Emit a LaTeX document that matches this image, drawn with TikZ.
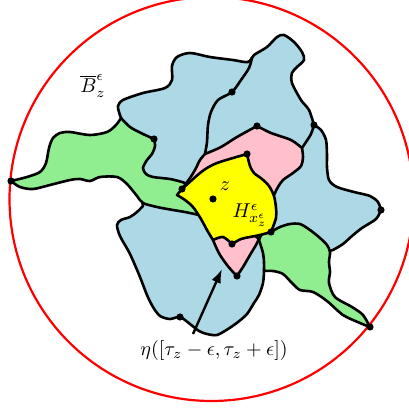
\documentclass[tikz,border=0pt]{standalone}
\usetikzlibrary{arrows.meta}
\definecolor{lb}{HTML}{ADD8E6}
\definecolor{lg}{HTML}{90EE90}
\definecolor{pk}{HTML}{FFC0CB}
\definecolor{yl}{HTML}{FFFF00}
\tikzset{
  bd/.style={line width=1.3pt, draw=black, line join=round, line cap=round},
  blobline/.style={line width=1.3pt, black, line cap=round},
  dotmark/.style={fill=black},
  lbl/.style={inner sep=0pt, font=\normalsize}
}
\begin{document}
\begin{tikzpicture}[x=0.5pt,y=-0.5pt]
\useasboundingbox (0,0) rectangle (409,408);
% named points
\coordinate (ctr) at (211.5,199);
\coordinate (D1) at (11,181);
\coordinate (D2) at (154,139);
\coordinate (D3) at (232,92);
\coordinate (D4) at (257,126);
\coordinate (D5) at (314,125);
\coordinate (D6) at (247,154);
\coordinate (D7) at (182,189);
\coordinate (Dz) at (213,199);
\coordinate (D8) at (232,244);
\coordinate (D9) at (271,232);
\coordinate (D10) at (237,276);
\coordinate (D11) at (381,210);
\coordinate (D12) at (370,327);
\coordinate (D13) at (180,317);
\coordinate (atail) at (193,334);
\coordinate (atip) at (222,269);

% blue union
\path[fill=lb, bd]
  plot[smooth] coordinates {(121,118) (119,112) (118,106) (123,100) (143,93) (165,88) (172,80) (172,66) (177,57) (190,53) (210,57) (233,60) (248,62) (254,55) (267,47) (277,37) (284,35) (294,42) (302,52) (304,60) (297,67) (292,73) (292,83) (301,100) (309,110) (314,125)}
  -- plot[smooth] coordinates {(314,125) (321,130) (326,140) (327,155) (327,167) (329,180) (337,187) (354,192) (370,196) (378,202) (381,210)}
  -- plot[smooth] coordinates {(381,210) (376,219) (362,228) (352,236) (343,244) (333,250)}
  -- (300,258) -- (272,262) -- (265,268)
  -- plot[smooth] coordinates {(264,272) (263,283) (259,295) (254,303) (247,314) (238,322) (228,329) (217,335) (207,334) (199,331) (190,324) (180,317) (170,319) (160,316) (153,307) (147,295) (140,277) (130,254) (120,236) (117,225) (121,220) (130,217) (137,212) (143,206)}
  -- (140,186) -- (128,165) -- cycle;

% blue internal lines
\draw[blobline] plot[smooth] coordinates {(252,58) (249,68) (241,80) (232,92) (218,100) (211,112) (208,125) (207,142) (205,154)};
\draw[blobline] plot[smooth] coordinates {(314,125) (311,134) (306,142) (302,148)};

% left green
\path[fill=lg, bd]
  plot[smooth] coordinates {(11,181) (27,177) (40,172) (46,163) (49,148) (53,138) (60,133) (70,132) (90,135) (107,132) (116,125) (121,118)}
  -- plot[smooth] coordinates {(121,118) (130,127) (141,133) (154,139)}
  -- plot[smooth] coordinates {(154,139) (155,146) (152,154) (147,160) (143,168) (146,174) (153,177) (170,179) (182,182) (188,184)}
  -- (198,193) -- (205,205) -- (199,215)
  -- plot[smooth] coordinates {(199,215) (185,212) (173,210) (157,207) (143,203) (137,196) (127,184) (117,177) (100,177) (90,181) (80,179) (70,180) (50,185) (33,189) (20,187) (11,181)}
  -- cycle;

% right green
\path[fill=lg, bd]
  plot[smooth] coordinates {(271,232) (280,227) (290,224) (300,224) (310,230) (320,238) (327,245) (330,252) (329,262) (330,272) (329,283) (335,297) (352,307) (363,315) (370,327)}
  -- plot[smooth] coordinates {(370,327) (360,323) (343,315) (327,301) (313,292) (300,290) (292,283) (283,274) (273,271) (264,271)}
  -- plot[smooth] coordinates {(264,271) (264,262) (263,253) (259,240)}
  -- (264,228) -- cycle;

% upper pink
\path[fill=pk, bd]
  plot[smooth] coordinates {(182,189) (190,178) (195,170) (200,160) (205,154)}
  -- plot[smooth] coordinates {(205,154) (221,147) (237,137) (257,126)}
  -- plot[smooth] coordinates {(257,126) (271,133) (291,140) (302,148)}
  -- plot[smooth] coordinates {(302,148) (303,157) (301,166) (293,173) (283,180) (278,187) (274,195)}
  -- (262,200) -- (220,190) -- cycle;

% lower pink
\path[fill=pk, bd]
  plot[smooth] coordinates {(213,240) (216,247) (220,255) (227,265) (233,272) (237,276)}
  -- plot[smooth] coordinates {(237,276) (243,267) (250,255) (256,245) (259,239)}
  -- (245,228) -- (222,228) -- cycle;

% yellow
\path[fill=yl, bd]
  plot[smooth] coordinates {(182,189) (192,180) (200,173) (207,168) (217,163) (233,158) (247,154)}
  -- plot[smooth] coordinates {(247,154) (250,166) (254,173) (262,179) (269,186) (274,196) (276,208) (276,218) (271,232)}
  -- plot[smooth] coordinates {(271,232) (260,235) (250,237) (241,239) (232,244)}
  -- plot[smooth] coordinates {(232,244) (223,237) (213,240)}
  -- plot[smooth] coordinates {(213,240) (207,230) (201,219) (193,207) (185,200) (177,195)}
  -- cycle;

% red circle
\draw[red, line width=1.1pt] (ctr) circle (202);

% dots
\foreach \p in {D1,D2,D3,D4,D5,D6,D7,Dz,D8,D9,D10,D11,D12,D13}
  \fill[dotmark] (\p) circle (3.6);

% arrow
\draw[line width=1.2pt, -{Latex[length=7pt,width=5pt]}] (atail) -- (atip);

% labels
\node[lbl] (lB) at (93,86) {$\overline{B}^{\epsilon}_z$};
\node[lbl] (lz) at (225,186) {$z$};
\node[lbl] (lH) at (250,215) {$H^{\epsilon}_{x^{\epsilon}_z}$};
\node[lbl] (leta) at (214,350) {$\eta([\tau_z-\epsilon,\tau_z+\epsilon])$};
\end{tikzpicture}
\end{document}
